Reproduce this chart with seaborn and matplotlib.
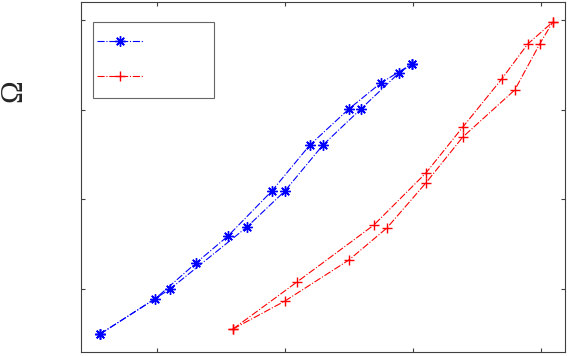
import matplotlib
matplotlib.use("Agg")
import matplotlib.pyplot as plt
import seaborn as sns

# blue series (asterisks), two branches
blue1_x = [0.555, 0.984, 1.305, 1.555, 1.898, 2.195, 2.500, 2.750, 2.992]
blue1_y = [0.498, 0.889, 1.290, 1.591, 2.093, 2.605, 3.007, 3.297, 3.508]
blue2_x = [0.555, 1.102, 1.703, 2.000, 2.297, 2.594, 2.891, 2.992]
blue2_y = [0.498, 1.000, 1.691, 2.093, 2.605, 3.007, 3.408, 3.508]

# red series (plus), two branches
red1_x = [1.594, 2.094, 2.695, 3.102, 3.391, 3.695, 3.898, 4.094]
red1_y = [0.554, 1.078, 1.713, 2.293, 2.806, 3.341, 3.731, 3.977]
red2_x = [1.594, 2.000, 2.500, 2.797, 3.102, 3.391, 3.797, 3.992, 4.094]
red2_y = [0.554, 0.866, 1.323, 1.680, 2.182, 2.695, 3.219, 3.731, 3.977]

xticks = [1, 2, 3, 4]
yticks = [1, 2, 3, 4]

sns.set_style("white")

fig = plt.figure(figsize=(5.68, 3.56), dpi=100)
ax = fig.add_axes([81 / 568, 4 / 356, 484 / 568, 350 / 356])

star = (8, 2, 0)
kw = dict(sort=False, estimator=None, linewidth=0.8, linestyle="-.", markersize=7.5,
          markeredgewidth=1.0, ax=ax)
sns.lineplot(x=blue1_x, y=blue1_y, color="blue", marker=star, markeredgecolor="blue", **kw)
sns.lineplot(x=blue2_x, y=blue2_y, color="blue", marker=star, markeredgecolor="blue", **kw)
sns.lineplot(x=red1_x, y=red1_y, color="red", marker="+", markeredgecolor="red", **kw)
sns.lineplot(x=red2_x, y=red2_y, color="red", marker="+", markeredgecolor="red", **kw)

ax.set_xlim(0.406, 4.19)
ax.set_ylim(0.298, 4.2)
ax.set_xticks(xticks)
ax.set_yticks(yticks)
ax.tick_params(direction="in", length=3, width=0.8, color="#404040", top=True, right=True,
               bottom=True, left=True, labelbottom=False, labelleft=False)
for s in ax.spines.values():
    s.set_color("#404040")
    s.set_linewidth(0.8)

# empty legend entries, like the original
lines = ax.get_lines()
leg = ax.legend([lines[0], lines[2]], [" " * 6, " " * 6], loc="upper left",
                bbox_to_anchor=(12 / 484, 1 - 20 / 350), borderaxespad=0,
                fontsize=10, handlelength=3.3, handleheight=2.56, handletextpad=0.4,
                borderpad=0.3, labelspacing=0.13, frameon=True, fancybox=False)
for t in leg.get_texts():
    t.set_fontsize(23.2)
leg.get_frame().set_edgecolor("#404040")
leg.get_frame().set_linewidth(0.8)

fig.text(14 / 568, 1 - 91 / 356, "Ω", rotation=90, ha="center", va="center",
         family="Liberation Serif", fontsize=22, color="#262626")

fig.savefig("out.png", dpi=100)
